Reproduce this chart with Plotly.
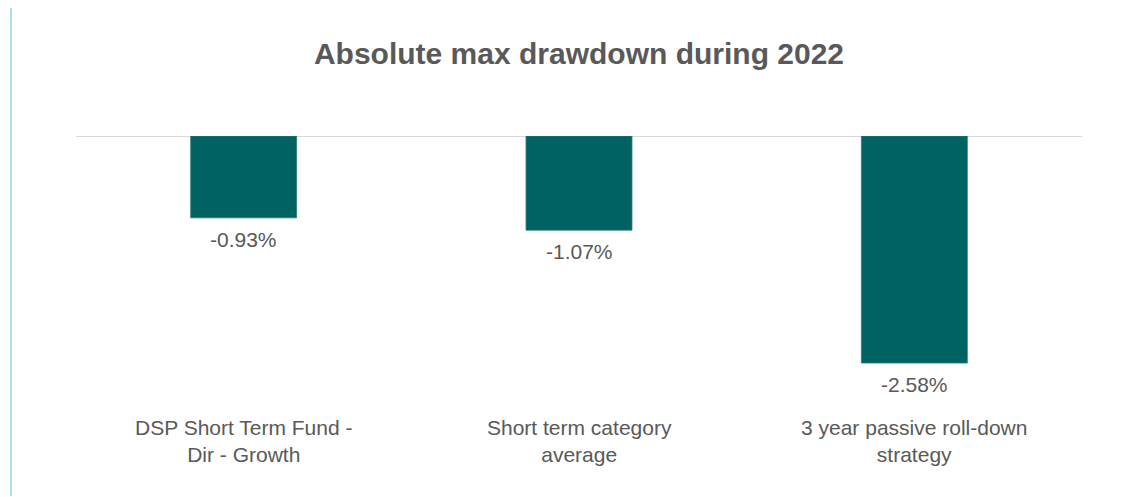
import plotly.graph_objects as go

categories = ["DSP Short Term Fund -<br>Dir - Growth", "Short term category<br>average", "3 year passive roll-down<br>strategy"]
values = [-0.93, -1.07, -2.58]
labels = ["-0.93%", "-1.07%", "-2.58%"]
title = "Absolute max drawdown during 2022"

FONT = "Liberation Sans, Arial, sans-serif"
TXT = "#595959"
W, H = 1137, 497
L, R, T, B = 76, W - 1082, 136, H - 400
ph = H - T - B

fig = go.Figure()
fig.add_trace(go.Bar(
    x=list(range(len(categories))), y=values, width=0.316,
    marker=dict(color="#006361", line=dict(color="#2b7c79", width=0.8)),
    hoverinfo="skip",
))

for i, (v, t) in enumerate(zip(values, labels)):
    fig.add_annotation(x=i, y=v, xref="x", yref="y", text=t, showarrow=False,
                       yanchor="top", yshift=-8, font=dict(family=FONT, size=21, color=TXT))
for i, c in enumerate(categories):
    fig.add_annotation(x=i, y=0, xref="x", yref="paper", text=c, showarrow=False,
                       yanchor="top", yshift=-14, font=dict(family=FONT, size=21, color=TXT))

# zero line
fig.add_shape(type="line", xref="paper", yref="y", x0=0, x1=1, y0=0, y1=0,
              line=dict(color="#d9d9d9", width=2), layer="below")
# left accent line
fig.add_shape(type="line", xref="paper", yref="paper",
              x0=(11 - L) / (W - L - R), x1=(11 - L) / (W - L - R),
              y0=(H - B - 8) / ph, y1=(H - B - 496) / ph,
              line=dict(color="#a9dfe9", width=2))

fig.update_layout(
    width=W, height=H,
    margin=dict(l=L, r=R, t=T, b=B),
    paper_bgcolor="white", plot_bgcolor="white",
    showlegend=False,
    title=dict(text="<b>" + title + "</b>", x=0.5, xref="paper", xanchor="center",
               y=1 - 53 / H, yref="container", yanchor="middle",
               font=dict(family=FONT, size=30, color=TXT)),
    xaxis=dict(range=[-0.5, 2.5], visible=False),
    yaxis=dict(range=[-3, 0], visible=False, zeroline=False, showgrid=False),
)

fig.write_html("out.html")
